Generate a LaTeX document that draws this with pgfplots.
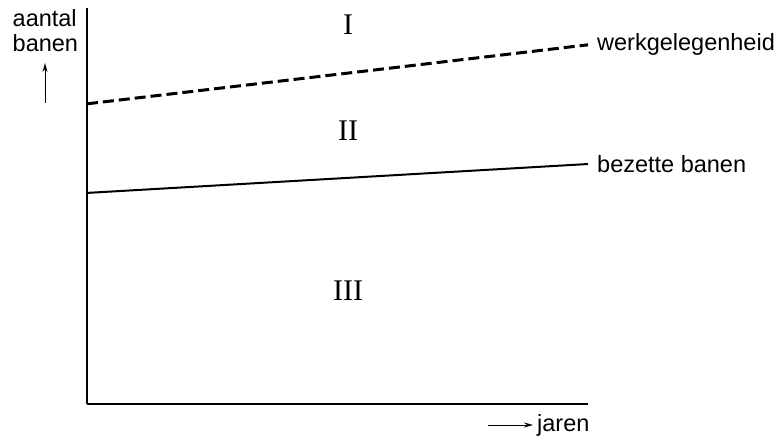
\documentclass[border=0pt]{standalone}
\usepackage{pgfplots}
\pgfplotsset{compat=1.18}
\usepackage{fontspec}
\setmainfont{Liberation Sans}
\newfontfamily\romfont{Liberation Serif}
\usetikzlibrary{arrows.meta}

\newcommand\lblfont{\fontsize{23.5}{28}\selectfont}
\newcommand\numfont{\romfont\fontsize{30}{34}\selectfont}

\begin{document}
\begin{tikzpicture}
% picture = 781 x 441 pt, 1 px of the reference = 1 pt
\path[use as bounding box] (0pt,0pt) rectangle (781pt,441pt);
\begin{axis}[
  at={(87pt,37pt)}, anchor=south west,
  scale only axis, width=501pt, height=396pt,
  xmin=0, xmax=10, ymin=0, ymax=100,
  axis x line=bottom, axis y line=left,
  axis line style={-, line width=1.4pt},
  xtick=\empty, ytick=\empty,
  clip=false,
]
% werkgelegenheid (dashed) and bezette banen (solid)
\addplot[line width=3pt, dash pattern=on 11pt off 5pt] coordinates {(0,75.8)(10,90.7)};
\addplot[line width=2pt] coordinates {(0,53.3)(10,60.6)};
\node[anchor=west, inner sep=0pt, xshift=9pt, font=\lblfont] at (axis cs:10,90.7) {werkgelegenheid};
\node[anchor=west, inner sep=0pt, xshift=9pt, font=\lblfont] at (axis cs:10,60.6) {bezette banen};
% areas
\node[inner sep=0pt, font=\numfont] at (axis cs:5.21,95.7) {I};
\node[inner sep=0pt, font=\numfont] at (axis cs:5.21,68.9) {II};
\node[inner sep=0pt, font=\numfont] at (axis cs:5.21,28.5) {III};
\end{axis}
% axis descriptions
\begin{scope}[every node/.style={inner sep=0pt, font=\lblfont}]
\node[anchor=base west] at (12.5pt,414pt) {aantal};
\node[anchor=base west] at (12.5pt,389pt) {banen};
\draw[-{Stealth[length=9pt,width=5pt]}, line width=0.9pt] (45pt,338pt) -- (45pt,378pt);
\draw[-{Stealth[length=9pt,width=5pt]}, line width=0.9pt] (488pt,16pt) -- (533pt,16pt);
\node[anchor=base west] at (537pt,9pt) {jaren};
\end{scope}
\end{tikzpicture}
\end{document}
